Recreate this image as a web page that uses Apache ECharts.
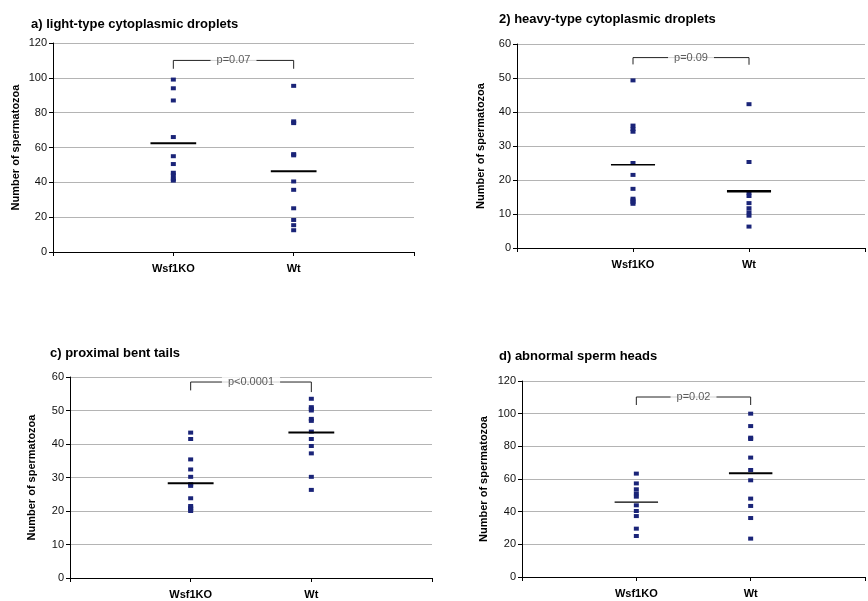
<!DOCTYPE html>
<html>
<head>
<meta charset="utf-8">
<script src="https://cdn.jsdelivr.net/npm/echarts@6/dist/echarts.min.js"></script>
<style>html,body{margin:0;padding:0;background:#fff}#c{width:868px;height:601px}</style>
</head>
<body>
<div id="c"></div>
<script>
// ---- data ----
const categories = ['', 'Wsf1KO', 'Wt', ''];
const titles = ['a) light-type cytoplasmic droplets', '2) heavy-type cytoplasmic droplets', 'c) proximal bent tails', 'd) abnormal sperm heads'];
const yMax = [120, 60, 60, 120];
const yInterval = [20, 10, 10, 20];

const koA = [99, 94, 87, 66, 55, 50.5, 45.5, 44, 42, 41];
const wtA = [95.4, 75, 74, 56.2, 55.5, 40.5, 35.7, 25.1, 18.4, 15.4, 12.5];
const koB = [49.3, 36, 35, 34.2, 25, 21.5, 17.4, 14.5, 14, 13.5, 13];
const wtB = [42.3, 25.3, 16.3, 15.3, 13.2, 11.7, 10.5, 9.5, 6.3];
const koC = [43.4, 41.5, 35.4, 32.4, 30.2, 28, 27.5, 23.8, 21.5, 21, 20.5, 20];
const wtC = [53.5, 51, 50.5, 50, 47.5, 46.9, 43.7, 41.5, 39.4, 37.2, 30.2, 26.3];
const koD = [63.3, 57.3, 53.7, 51.2, 49.2, 43.9, 40.4, 37.3, 29.6, 25.1];
const wtD = [100, 92.4, 85.3, 84.5, 73.1, 65.5, 59.2, 48, 43.5, 36.1, 23.5];

const koMean = [62.4, 24.5, 28.3, 45.9];
const wtMean = [46.4, 16.7, 43.4, 63.5];

const pLabels = ['p=0.07', 'p=0.09', 'p<0.0001', 'p=0.02'];
const bracketTop = [110, 56, 58.5, 110.2];
const bracketLowL = [105.2, 54, 56, 105.3];
const bracketLowR = [105.2, 53.9, 55.5, 105.3];

const koAll = [koA, koB, koC, koD];
const wtAll = [wtA, wtB, wtC, wtD];

// ---- layout / style ----
const grids = [
  {left: 53, top: 43, width: 361, height: 209},
  {left: 517, top: 44, width: 352, height: 204},
  {left: 70, top: 377, width: 362, height: 201},
  {left: 522, top: 381, width: 355, height: 196}
];
const titlePos = [[26, 13], [494, 8], [45, 342], [494, 345]];
const nameGaps = [32, 31, 33, 33];
const meanW = [[2, 2], [1.5, 2.5], [2, 2], [1.2, 2]];
const FONT = '"Liberation Sans", Arial, sans-serif';
const markColor = '#1a2478';
const halfW = 0.19;

const chart = echarts.init(document.getElementById('c'), null, {renderer: 'canvas'});
const xAxes = [], yAxes = [], series = [], title = [];
for (let i = 0; i < 4; i++) {
  title.push({text: titles[i], left: titlePos[i][0], top: titlePos[i][1],
    textStyle: {fontFamily: FONT, fontSize: 13, fontWeight: 'bold', color: '#000'}});
  xAxes.push({
    type: 'value', gridIndex: i, min: 0, max: categories.length - 1, interval: 1,
    axisLine: {show: true, onZero: false, lineStyle: {color: '#000', width: 1}},
    axisTick: {show: true, length: 4, lineStyle: {color: '#000'}},
    splitLine: {show: false},
    axisLabel: {formatter: v => categories[v] || '', fontFamily: FONT, fontSize: 11, fontWeight: 'bold', color: '#000', margin: 11}
  });
  yAxes.push({
    type: 'value', gridIndex: i, min: 0, max: yMax[i], interval: yInterval[i],
    name: 'Number of spermatozoa', nameLocation: 'middle', nameGap: nameGaps[i],
    nameTextStyle: {fontFamily: FONT, fontSize: 11, fontWeight: 'bold', color: '#000'},
    axisLine: {show: true, lineStyle: {color: '#000', width: 1}},
    axisTick: {show: true, length: 4, lineStyle: {color: '#000'}},
    splitLine: {show: true, lineStyle: {color: '#b4b4b4', width: 1}},
    axisLabel: {fontFamily: FONT, fontSize: 11, color: '#111', margin: 6}
  });
  const groups = [koAll[i], wtAll[i]];
  groups.forEach((vals, g) => {
    series.push({
      type: 'scatter', xAxisIndex: i, yAxisIndex: i, symbol: 'rect', symbolSize: [5, 4],
      itemStyle: {color: markColor, opacity: 1}, silent: true, z: 3,
      data: vals.map(v => [g + 1, v])
    });
  });
  [koMean[i], wtMean[i]].forEach((m, g) => {
    series.push({
      type: 'line', xAxisIndex: i, yAxisIndex: i, symbol: 'none', silent: true, z: 4,
      lineStyle: {color: '#000', width: meanW[i][g]},
      data: [[g + 1 - halfW, m], [g + 1 + halfW, m]]
    });
  });
  series.push({
    type: 'line', xAxisIndex: i, yAxisIndex: i, symbol: 'none', silent: true, z: 4,
    lineStyle: {color: '#222', width: 1},
    data: [[1, bracketLowL[i]], [1, bracketTop[i]], [2, bracketTop[i]], [2, bracketLowR[i]]]
  });
  series.push({
    type: 'scatter', xAxisIndex: i, yAxisIndex: i, symbolSize: 0, silent: true, z: 5,
    data: [[1.5, bracketTop[i]]],
    label: {show: true, position: 'inside', formatter: pLabels[i], fontFamily: FONT, fontSize: 11,
      color: '#333', backgroundColor: '#fff', padding: [1, 6]}
  });
}
chart.setOption({
  animation: false,
  backgroundColor: '#fff',
  title: title,
  grid: grids,
  xAxis: xAxes,
  yAxis: yAxes,
  series: series
});
</script>
</body>
</html>
